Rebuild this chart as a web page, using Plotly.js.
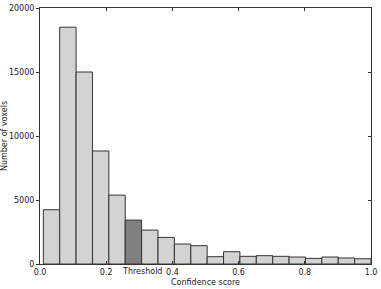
<!DOCTYPE html>
<html><head><meta charset="utf-8">
<script src="https://cdn.plot.ly/plotly-3.0.1.min.js"></script>
<style>html,body{margin:0;padding:0;background:#fff}#c{width:381px;height:289px}</style>
</head><body><div id="c"></div>
<script>
// Histogram bins (confidence score), 20 bins from 0.01 to 1.0
const binStart = 0.01;
const binEnd = 1.0;
const counts = [4240, 18500, 15000, 8830, 5380, 3430, 2650, 2080, 1560, 1430,
                570, 960, 600, 650, 600, 545, 440, 545, 470, 410];
const thresholdBin = 5;
const xTickVals = [0, 0.2, 0.4, 0.6, 0.8, 1.0];
const xTickText = ["0.0", "0.2", "0.4", "0.6", "0.8", "1.0"];
const yTickVals = [0, 5000, 10000, 15000, 20000];
const yTickText = ["0", "5000", "10000", "15000", "20000"];
const thresholdLabel = "Threshold";
const thresholdLabelX = 0.307;

const w = (binEnd - binStart) / counts.length;
const centers = counts.map((_, i) => binStart + (i + 0.5) * w);
const colors = counts.map((_, i) => i === thresholdBin ? '#808080' : '#d3d3d3');
const font = {family: 'DejaVu Sans', size: 8, color: '#222'};

const trace = {
  type: 'bar', x: centers, y: counts, width: w,
  marker: {color: colors, line: {color: '#333', width: 1}},
  hoverinfo: 'none'
};
const trace2 = {type: 'scatter', x: [0.5], y: [0], yaxis: 'y2', mode: 'markers',
  marker: {opacity: 0}, showlegend: false, hoverinfo: 'none'};

const layout = {
  width: 381, height: 289,
  margin: {l: 40, r: 10, t: 8, b: 25},
  paper_bgcolor: '#fff', plot_bgcolor: '#fff',
  showlegend: false, bargap: 0,
  font: font,
  xaxis: {range: [0, 1], tickvals: xTickVals, ticktext: xTickText,
    ticks: 'inside', ticklen: 3, tickcolor: '#333', mirror: 'ticks',
    showline: true, linecolor: '#333', linewidth: 1, showgrid: false, zeroline: false,
    tickfont: font, title: {text: 'Confidence score', font: font, standoff: 3}},
  yaxis: {range: [0, 20000], tickvals: yTickVals, ticktext: yTickText, ticks: 'outside', ticklen: 3,
    tickcolor: '#333', showline: true, linecolor: '#333', linewidth: 1, mirror: true,
    showgrid: false, zeroline: false, tickfont: font,
    title: {text: 'Number of voxels', font: font, standoff: 5}},
  yaxis2: {range: [0, 20000], overlaying: 'y', side: 'right', tickvals: yTickVals,
    ticks: 'inside', ticklen: 3, tickcolor: '#333', showticklabels: false,
    showgrid: false, zeroline: false, showline: false},
  annotations: [{x: thresholdLabelX, xref: 'x', y: 0, yref: 'paper', yshift: -1,
    yanchor: 'top', xanchor: 'center', text: thresholdLabel, showarrow: false, font: font}]
};
Plotly.newPlot('c', [trace, trace2], layout, {staticPlot: true, displayModeBar: false});
</script></body></html>
